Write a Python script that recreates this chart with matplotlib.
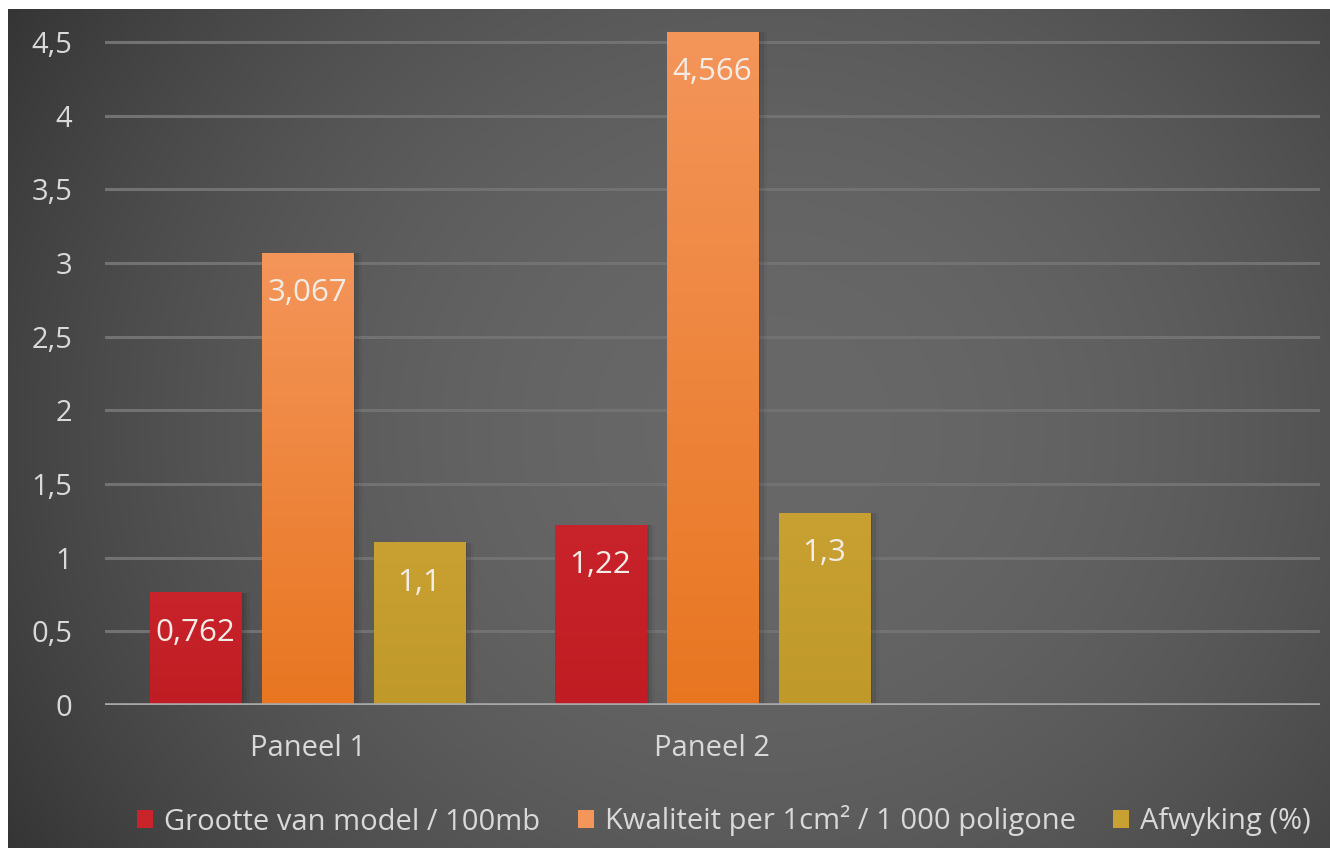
import numpy as np
import matplotlib
matplotlib.use("Agg")
import matplotlib.pyplot as plt
from matplotlib.colors import LinearSegmentedColormap

plt.rcParams['font.family'] = ['Open Sans', 'DejaVu Sans']

panels = ["Paneel 1", "Paneel 2", ""]
series = ["Grootte van model / 100mb", "Kwaliteit per 1cm² / 1 000 poligone", "Afwyking (%)"]
grootte = [0.762, 1.22, np.nan]
kwaliteit = [3.067, 4.566, np.nan]
afwyking = [1.1, 1.3, np.nan]
labels = [["0,762", "1,22", ""], ["3,067", "4,566", ""], ["1,1", "1,3", ""]]

# top / bottom colours of each bar gradient
bar_cols = [("#c9232b", "#bf1d23"), ("#f4955a", "#e87621"), ("#c8a132", "#c0992b")]

W, H = 1330, 848
fig = plt.figure(figsize=(W / 100, H / 100), dpi=100, facecolor="white")

# background panel with radial gradient
bg = fig.add_axes([8 / W, 0, 1 - 8 / W, 1 - 9 / H])
bg.set_axis_off()
yy, xx = np.mgrid[0:839, 0:1322]
r = np.sqrt(((xx - 760) / 820.0) ** 2 + ((yy - 420) / 760.0) ** 2)
val = 104 - 44 * np.clip(r, 0, 1.1) ** 2
img = np.dstack([val, val, val]) / 255.0
bg.imshow(img, aspect="auto", extent=(0, 1, 0, 1), interpolation="bilinear")
bg.set_xlim(0, 1)
bg.set_ylim(0, 1)

ymax = 4.7
ax = fig.add_axes([105 / W, 1 - 705 / H, 1215 / W, ymax * 147.33 / H])
ax.patch.set_alpha(0)
x = np.arange(len(panels))
width = 0.225
step = 0.2765

for i, (vals, name) in enumerate(zip([grootte, kwaliteit, afwyking], series)):
    top, bot = bar_cols[i]
    bars = ax.bar(x + (i - 1) * step, vals, width, color=top, label=name, zorder=3)
    cmap = LinearSegmentedColormap.from_list("g%d" % i, [bot, top])
    for b, lab in zip(bars, labels[i]):
        h = b.get_height()
        if not np.isfinite(h):
            continue
        x0 = b.get_x()
        # soft drop shadow
        for k, a in enumerate([0.10, 0.07, 0.04]):
            ax.bar(x0 + width / 2 + 0.006 * (k + 1), h, width + 0.004 * k, bottom=0,
                   color="black", alpha=a, zorder=2, linewidth=0)
        grad = np.linspace(0, 1, 256).reshape(-1, 1)
        ax.imshow(grad, cmap=cmap, origin="lower", aspect="auto",
                  extent=(x0, x0 + width, 0, h), zorder=4)
        ax.annotate(lab, (x0 + width / 2, h), xytext=(0, -28.8), textcoords="offset points",
                    ha="center", va="center", fontsize=22.5, color="#f2ece6", zorder=5)

ax.set_xlim(-0.5, 2.5)
ax.set_ylim(0, ymax)
ax.set_yticks(np.arange(0, 4.51, 0.5))
ax.set_yticklabels(["0", "0,5", "1", "1,5", "2", "2,5", "3", "3,5", "4", "4,5"])
ax.set_xticks(x)
ax.set_xticklabels(panels)
ax.tick_params(length=0, labelsize=21, labelcolor="#d9d9d9")
ax.tick_params(axis="y", pad=23.5)
ax.tick_params(axis="x", pad=21)
for s in ax.spines.values():
    s.set_visible(False)
ax.grid(axis="y", color="#727272", linewidth=2.2, zorder=1)
ax.axhline(0, color="#a8a8a8", linewidth=2.6, zorder=6)

leg = fig.legend(loc="center", bbox_to_anchor=(724 / W, 1 - 821 / H), ncol=3, frameon=False,
                 fontsize=21, handlelength=0.55, handleheight=0.55, handletextpad=0.38,
                 columnspacing=1.27, labelcolor="#d9d9d9")

fig.savefig("out.png", dpi=100, facecolor="white")
